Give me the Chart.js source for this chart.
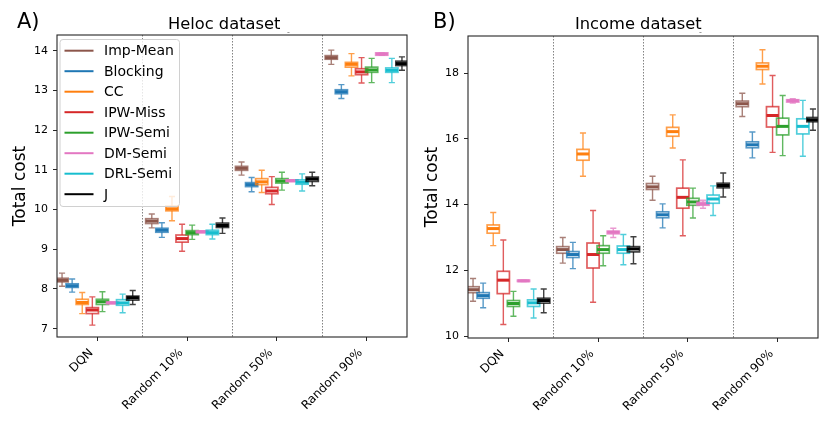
<!DOCTYPE html>
<html lang="en">
<head>
<meta charset="UTF-8" />
<title>Total cost</title>
<script src="https://cdn.jsdelivr.net/npm/chart.js@4.4.1/dist/chart.umd.min.js"></script>
<style>
  body { margin: 0; background: #fff; }
  #wrap { position: relative; width: 830px; height: 423px; }
  canvas { position: absolute; top: 0; }
</style>
</head>
<body>
<div id="wrap">
  <canvas id="heloc" width="415" height="423" style="left:0"></canvas>
  <canvas id="income" width="415" height="423" style="left:415px"></canvas>
</div>
<script>
const groups = ['DQN', 'Random 10%', 'Random 50%', 'Random 90%'];
const methods = ['Imp-Mean', 'Blocking', 'CC', 'IPW-Miss', 'IPW-Semi', 'DM-Semi', 'DRL-Semi', 'J'];
const colors = ['#8c564b', '#1f77b4', '#ff7f0e', '#d62728', '#2ca02c', '#e377c2', '#17becf', '#000000'];

// Heloc: one row per method, one value per group
const helocLow = [
  [8.07, 9.54, 10.87, 13.66], [7.92, 9.30, 10.45, 12.80], [7.38, 9.72, 10.43, 13.37], [7.09, 8.95, 10.13, 13.19],
  [7.43, 9.25, 10.49, 13.20], [7.63, 9.42, 10.71, 13.89], [7.40, 9.26, 10.47, 13.20], [7.61, 9.40, 10.60, 13.51]];
const helocQ1 = [
  [8.18, 9.65, 10.99, 13.79], [8.04, 9.43, 10.58, 12.92], [7.61, 9.97, 10.63, 13.59], [7.38, 9.18, 10.40, 13.40],
  [7.61, 9.37, 10.67, 13.46], [7.63, 9.42, 10.71, 13.89], [7.59, 9.37, 10.64, 13.46], [7.72, 9.55, 10.71, 13.63]];
const helocMed = [
  [8.22, 9.71, 11.04, 13.83], [8.08, 9.48, 10.63, 12.97], [7.66, 10.02, 10.70, 13.66], [7.47, 9.27, 10.47, 13.47],
  [7.68, 9.42, 10.72, 13.52], [7.65, 9.44, 10.73, 13.92], [7.65, 9.42, 10.69, 13.51], [7.78, 9.60, 10.77, 13.68]];
const helocQ3 = [
  [8.27, 9.77, 11.09, 13.88], [8.13, 9.53, 10.68, 13.02], [7.74, 10.09, 10.78, 13.71], [7.53, 9.36, 10.56, 13.55],
  [7.74, 9.47, 10.78, 13.59], [7.67, 9.46, 10.75, 13.95], [7.73, 9.48, 10.75, 13.57], [7.82, 9.66, 10.82, 13.74]];
const helocHigh = [
  [8.40, 9.89, 11.20, 14.02], [8.25, 9.67, 10.81, 13.15], [7.91, 10.33, 10.99, 13.93], [7.80, 9.63, 10.83, 13.83],
  [7.93, 9.61, 10.94, 13.81], [7.67, 9.46, 10.75, 13.95], [7.87, 9.63, 10.90, 13.81], [7.96, 9.79, 10.94, 13.85]];

// Income
const incomeLow = [
  [11.06, 12.22, 14.13, 16.68], [10.86, 12.05, 13.29, 15.42], [12.75, 14.86, 15.72, 17.67], [10.35, 11.03, 13.05, 15.59],
  [10.60, 12.14, 13.59, 15.49], [11.66, 13.00, 13.89, 17.09], [10.55, 12.17, 13.67, 15.47], [10.71, 12.20, 14.23, 16.26]];
const incomeQ1 = [
  [11.32, 12.52, 14.46, 16.98], [11.15, 12.39, 13.60, 15.73], [13.13, 15.35, 16.08, 18.11], [11.29, 12.07, 13.89, 16.36],
  [10.90, 12.52, 13.98, 16.12], [11.66, 13.11, 13.98, 17.12], [10.90, 12.52, 14.04, 16.15], [11.00, 12.56, 14.51, 16.52]];
const incomeMed = [
  [11.41, 12.63, 14.54, 17.07], [11.23, 12.48, 13.69, 15.82], [13.27, 15.54, 16.22, 18.21], [11.70, 12.48, 14.22, 16.71],
  [10.99, 12.63, 14.08, 16.38], [11.68, 13.16, 14.02, 17.16], [11.01, 12.63, 14.17, 16.38], [11.08, 12.65, 14.58, 16.58]];
const incomeQ3 = [
  [11.50, 12.72, 14.64, 17.15], [11.32, 12.57, 13.78, 15.91], [13.38, 15.68, 16.35, 18.31], [11.97, 12.83, 14.50, 16.98],
  [11.08, 12.75, 14.19, 16.63], [11.70, 13.19, 14.07, 17.19], [11.10, 12.74, 14.29, 16.61], [11.15, 12.72, 14.65, 16.65]];
const incomeHigh = [
  [11.75, 13.00, 14.86, 17.39], [11.61, 12.85, 14.02, 16.21], [13.76, 16.18, 16.73, 18.71], [12.92, 13.82, 15.36, 17.93],
  [11.36, 13.05, 14.50, 17.32], [11.70, 13.28, 14.13, 17.22], [11.43, 13.09, 14.57, 17.17], [11.43, 13.02, 14.96, 16.91]];

const helocTicks = [7, 8, 9, 10, 11, 12, 13, 14];
const incomeTicks = [10, 12, 14, 16, 18];

const FONT = "'DejaVu Sans', sans-serif";
const SPACING = 0.1125;   // distance between methods inside a group
const HALF_BOX = 0.068;   // half box width, x units

function boxPlugin(stats, texts) {
  return {
    id: 'boxes',
    beforeDatasetsDraw(chart) {
      const { ctx, chartArea: a, scales: { x } } = chart;
      // dotted group separators
      ctx.save();
      ctx.strokeStyle = 'rgba(90,90,90,0.75)';
      ctx.lineWidth = 1;
      ctx.setLineDash([1.5, 1.5]);
      for (let g = 0; g < groups.length - 1; g++) {
        const px = Math.round(x.getPixelForValue(g + 0.5)) + 0.5;
        ctx.beginPath();
        ctx.moveTo(px, a.top);
        ctx.lineTo(px, a.bottom);
        ctx.stroke();
      }
      ctx.restore();
    },
    afterDatasetsDraw(chart) {
      const { ctx, chartArea: a, scales: { x, y } } = chart;
      ctx.save();
      ctx.beginPath();
      ctx.rect(a.left, a.top, a.right - a.left, a.bottom - a.top);
      ctx.clip();
      groups.forEach((_, g) => {
        methods.forEach((m, i) => {
          const pos = g + (i - 3.5) * SPACING;
          const xc = x.getPixelForValue(pos);
          const x0 = x.getPixelForValue(pos - HALF_BOX);
          const x1 = x.getPixelForValue(pos + HALF_BOX);
          const c0 = x.getPixelForValue(pos - HALF_BOX / 2);
          const c1 = x.getPixelForValue(pos + HALF_BOX / 2);
          const lo = y.getPixelForValue(stats.low[i][g]);
          const q1 = y.getPixelForValue(stats.q1[i][g]);
          const md = y.getPixelForValue(stats.med[i][g]);
          const q3 = y.getPixelForValue(stats.q3[i][g]);
          const hi = y.getPixelForValue(stats.high[i][g]);
          ctx.strokeStyle = colors[i];
          ctx.globalAlpha = 0.75;
          ctx.lineWidth = 1.4;
          ctx.beginPath();
          ctx.moveTo(xc, q1); ctx.lineTo(xc, lo);
          ctx.moveTo(c0, lo); ctx.lineTo(c1, lo);
          ctx.moveTo(xc, q3); ctx.lineTo(xc, hi);
          ctx.moveTo(c0, hi); ctx.lineTo(c1, hi);
          ctx.stroke();
          ctx.lineWidth = 1.7;
          ctx.strokeRect(x0, q3, x1 - x0, q1 - q3);
          ctx.globalAlpha = 1;
          ctx.lineWidth = 3;
          ctx.beginPath();
          ctx.moveTo(x0, md); ctx.lineTo(x1, md);
          ctx.stroke();
        });
      });
      ctx.restore();
    },
    afterDraw(chart) {
      const { ctx, chartArea: a } = chart;
      ctx.save();
      ctx.strokeStyle = '#262626';
      ctx.lineWidth = 1.1;
      ctx.strokeRect(a.left, a.top, a.right - a.left, a.bottom - a.top);
      ctx.fillStyle = '#000';
      ctx.textBaseline = 'alphabetic';
      ctx.font = '21px ' + FONT;
      ctx.fillText(texts.tag, texts.tagX, 28);
      ctx.font = '16.3px ' + FONT;
      ctx.fillText(texts.title, texts.titleX, 29);
      ctx.fillStyle = '#777';
      ctx.font = '8px ' + FONT;
      ctx.fillText('-', texts.markX, 35);
      ctx.fillStyle = '#000';
      ctx.font = '17px ' + FONT;
      ctx.translate(texts.labelX, (a.top + a.bottom) / 2);
      ctx.rotate(-Math.PI / 2);
      ctx.textAlign = 'center';
      ctx.fillText('Total cost', 0, 0);
      ctx.restore();
      if (texts.legend) drawLegend(ctx);
    }
  };
}

function drawLegend(ctx) {
  ctx.save();
  const lx = 60, ly = 39.5, lw = 119.5, lh = 167;
  ctx.beginPath();
  ctx.roundRect(lx, ly, lw, lh, 3);
  ctx.fillStyle = 'rgba(255,255,255,0.8)';
  ctx.fill();
  ctx.strokeStyle = '#d0d0d0';
  ctx.lineWidth = 1;
  ctx.stroke();
  ctx.font = '14px ' + FONT;
  ctx.textBaseline = 'middle';
  methods.forEach((m, i) => {
    const yy = 50.7 + i * 20.5;
    ctx.strokeStyle = colors[i];
    ctx.lineWidth = 2;
    ctx.beginPath();
    ctx.moveTo(64.5, yy); ctx.lineTo(93.5, yy);
    ctx.stroke();
    ctx.fillStyle = '#000';
    ctx.fillText(m, 104, yy + 1);
  });
  ctx.restore();
}

function makeChart(id, stats, yMin, yMax, yTicks, yWidth, pad, texts) {
  return new Chart(document.getElementById(id), {
    type: 'scatter',
    data: { datasets: methods.map((m, i) => ({ label: m, data: [], borderColor: colors[i] })) },
    options: {
      responsive: false,
      animation: false,
      layout: { padding: { top: pad.top, right: pad.right, left: 0, bottom: 0 } },
      plugins: { legend: { display: false }, tooltip: { enabled: false } },
      scales: {
        x: {
          type: 'linear', min: -0.45, max: 3.45,
          afterBuildTicks: ax => { ax.ticks = groups.map((_, i) => ({ value: i })); },
          afterFit: ax => { ax.height = pad.xHeight; },
          grid: { drawOnChartArea: false, drawTicks: true, tickLength: 4, tickColor: '#262626' },
          border: { display: false },
          ticks: {
            autoSkip: false, minRotation: 45, maxRotation: 45, padding: 5, labelOffset: -6, color: '#000',
            font: { family: FONT, size: 12 },
            callback: v => groups[v]
          }
        },
        y: {
          type: 'linear', min: yMin, max: yMax,
          afterBuildTicks: ax => { ax.ticks = yTicks.map(v => ({ value: v })); },
          afterFit: ax => { ax.width = yWidth; },
          grid: { drawOnChartArea: false, drawTicks: true, tickLength: 4, tickColor: '#262626' },
          border: { display: false },
          ticks: { padding: 5, color: '#000', font: { family: FONT, size: 11 } }
        }
      }
    },
    plugins: [boxPlugin(stats, texts)]
  });
}

makeChart('heloc',
  { low: helocLow, q1: helocQ1, med: helocMed, q3: helocQ3, high: helocHigh },
  6.79, 14.40, helocTicks, 57,
  { top: 35, right: 8, xHeight: 86 },
  { tag: 'A)', tagX: 17, title: 'Heloc dataset', titleX: 168, markX: 287, labelX: 25, legend: true });

makeChart('income',
  { low: incomeLow, q1: incomeQ1, med: incomeMed, q3: incomeQ3, high: incomeHigh },
  9.94, 19.13, incomeTicks, 53,
  { top: 36, right: 12, xHeight: 85 },
  { tag: 'B)', tagX: 18, title: 'Income dataset', titleX: 160, markX: 284, labelX: 22, legend: false });
</script>
</body>
</html>
